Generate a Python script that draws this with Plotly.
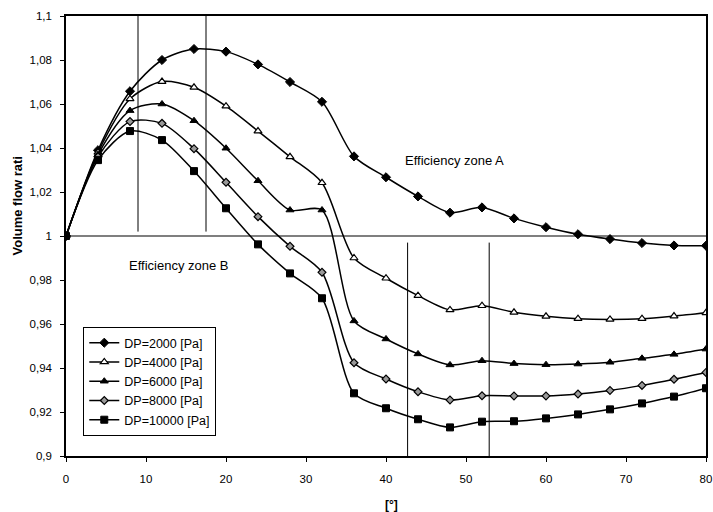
import plotly.graph_objects as go

angle = [0, 4, 8, 12, 16, 20, 24, 28, 32, 36, 40, 44, 48, 52, 56, 60, 64, 68, 72, 76, 80]

dp2000 = [1.000, 1.039, 1.0658, 1.080, 1.085, 1.0838, 1.078, 1.070, 1.061, 1.0362, 1.0267, 1.018, 1.0106,
          1.013, 1.008, 1.004, 1.0008, 0.9986, 0.9968, 0.9957, 0.9956]
dp4000 = [1.000, 1.038, 1.0623, 1.0702, 1.0676, 1.059, 1.0477, 1.036, 1.0242, 0.990, 0.9808, 0.9729, 0.9664,
          0.9683, 0.9653, 0.9635, 0.9624, 0.9621, 0.9624, 0.9636, 0.9651]
dp6000 = [1.000, 1.037, 1.057, 1.060, 1.0524, 1.0399, 1.0251, 1.0118, 1.0118, 0.9614, 0.9532, 0.9464, 0.9414,
          0.9433, 0.942, 0.9415, 0.9418, 0.9426, 0.9444, 0.9462, 0.9486]
dp8000 = [1.000, 1.036, 1.052, 1.0512, 1.0397, 1.0244, 1.0088, 0.9953, 0.9835, 0.9424, 0.935, 0.9292, 0.9255,
          0.9274, 0.9273, 0.9273, 0.9282, 0.9298, 0.9321, 0.9349, 0.938]
dp10000 = [1.000, 1.0345, 1.0477, 1.0436, 1.0295, 1.0126, 0.9962, 0.983, 0.9717, 0.9285, 0.9217, 0.9167, 0.913,
           0.9156, 0.9158, 0.9171, 0.9189, 0.9212, 0.9239, 0.927, 0.9308]

series_names = ["DP=2000 [Pa]", "DP=4000 [Pa]", "DP=6000 [Pa]", "DP=8000 [Pa]", "DP=10000 [Pa]"]
series_values = [dp2000, dp4000, dp6000, dp8000, dp10000]

x_ticks = [0, 10, 20, 30, 40, 50, 60, 70, 80]
y_tickvals = [0.9, 0.92, 0.94, 0.96, 0.98, 1.0, 1.02, 1.04, 1.06, 1.08, 1.1]
y_ticktext = ["0,9", "0,92", "0,94", "0,96", "0,98", "1", "1,02", "1,04", "1,06", "1,08", "1,1"]

zone_a_bounds = [9.0, 17.5]
zone_b_bounds = [42.7, 52.9]
reference_ratio = 1.0

styles = [
    dict(symbol="diamond", size=7, color="black", line=dict(color="black", width=1)),
    dict(symbol="triangle-up", size=7, color="white", line=dict(color="black", width=1.2)),
    dict(symbol="triangle-up", size=7, color="black", line=dict(color="black", width=1)),
    dict(symbol="diamond", size=6, color="#999999", line=dict(color="black", width=1.2)),
    dict(symbol="square", size=7, color="black", line=dict(color="black", width=1)),
]

fig = go.Figure()
for name, vals, mk in zip(series_names, series_values, styles):
    fig.add_trace(go.Scatter(
        x=angle, y=vals, name=name, mode="lines+markers",
        line=dict(color="black", width=1.5, shape="spline", smoothing=0.8),
        marker=mk,
    ))

# reference lines
fig.add_shape(type="line", xref="x", yref="y", x0=0, x1=80, y0=reference_ratio, y1=reference_ratio,
              line=dict(color="black", width=1.2))
for xb in zone_a_bounds:
    fig.add_shape(type="line", xref="x", yref="y", x0=xb, x1=xb, y0=1.1, y1=1.002,
                  line=dict(color="black", width=1))
for xb in zone_b_bounds:
    fig.add_shape(type="line", xref="x", yref="y", x0=xb, x1=xb, y0=0.997, y1=0.9,
                  line=dict(color="black", width=1))

fig.add_annotation(x=48.6, y=1.0345, xref="x", yref="y", text="Efficiency zone A", showarrow=False,
                   font=dict(family="Liberation Sans, Arial", size=13, color="black"))
fig.add_annotation(x=14, y=0.9864, xref="x", yref="y", text="Efficiency zone B", showarrow=False,
                   font=dict(family="Liberation Sans, Arial", size=13, color="black"))
fig.add_annotation(x=-0.075, y=0.567, xref="paper", yref="paper", xanchor="center", yanchor="middle",
                   text="<b>Volume flow rati</b>", textangle=-90, showarrow=False,
                   font=dict(family="Liberation Sans, Arial", size=13, color="black"))
fig.add_annotation(x=0.509, y=-0.111, xref="paper", yref="paper", xanchor="center", yanchor="middle",
                   text="<b>[°]</b>", showarrow=False,
                   font=dict(family="Liberation Sans, Arial", size=12, color="black"))

fig.update_layout(
    width=713, height=512,
    margin=dict(l=66, r=7, t=16, b=56),
    paper_bgcolor="white", plot_bgcolor="white",
    font=dict(family="Liberation Sans, Arial", size=11, color="black"),
    showlegend=True,
    legend=dict(x=0.027, y=0.293, xanchor="left", yanchor="top",
                bgcolor="white", bordercolor="black", borderwidth=1,
                font=dict(family="Liberation Sans, Arial", size=12.5, color="black")),
    xaxis=dict(range=[0, 80], tickvals=x_ticks, showgrid=False, zeroline=False,
               showline=True, linecolor="black", linewidth=1.5, mirror=True,
               ticks="outside", ticklen=4, tickcolor="black", ticklabelstandoff=7,
               automargin=False, tickfont=dict(size=11.5)),
    yaxis=dict(range=[0.9, 1.1], tickvals=y_tickvals, ticktext=y_ticktext, showgrid=False,
               zeroline=False, showline=True, linecolor="black", linewidth=1.5, mirror=True,
               ticks="outside", ticklen=4, tickcolor="black", ticklabelstandoff=6,
               automargin=False, tickfont=dict(size=11.5)),
)

fig.write_html("out.html")
